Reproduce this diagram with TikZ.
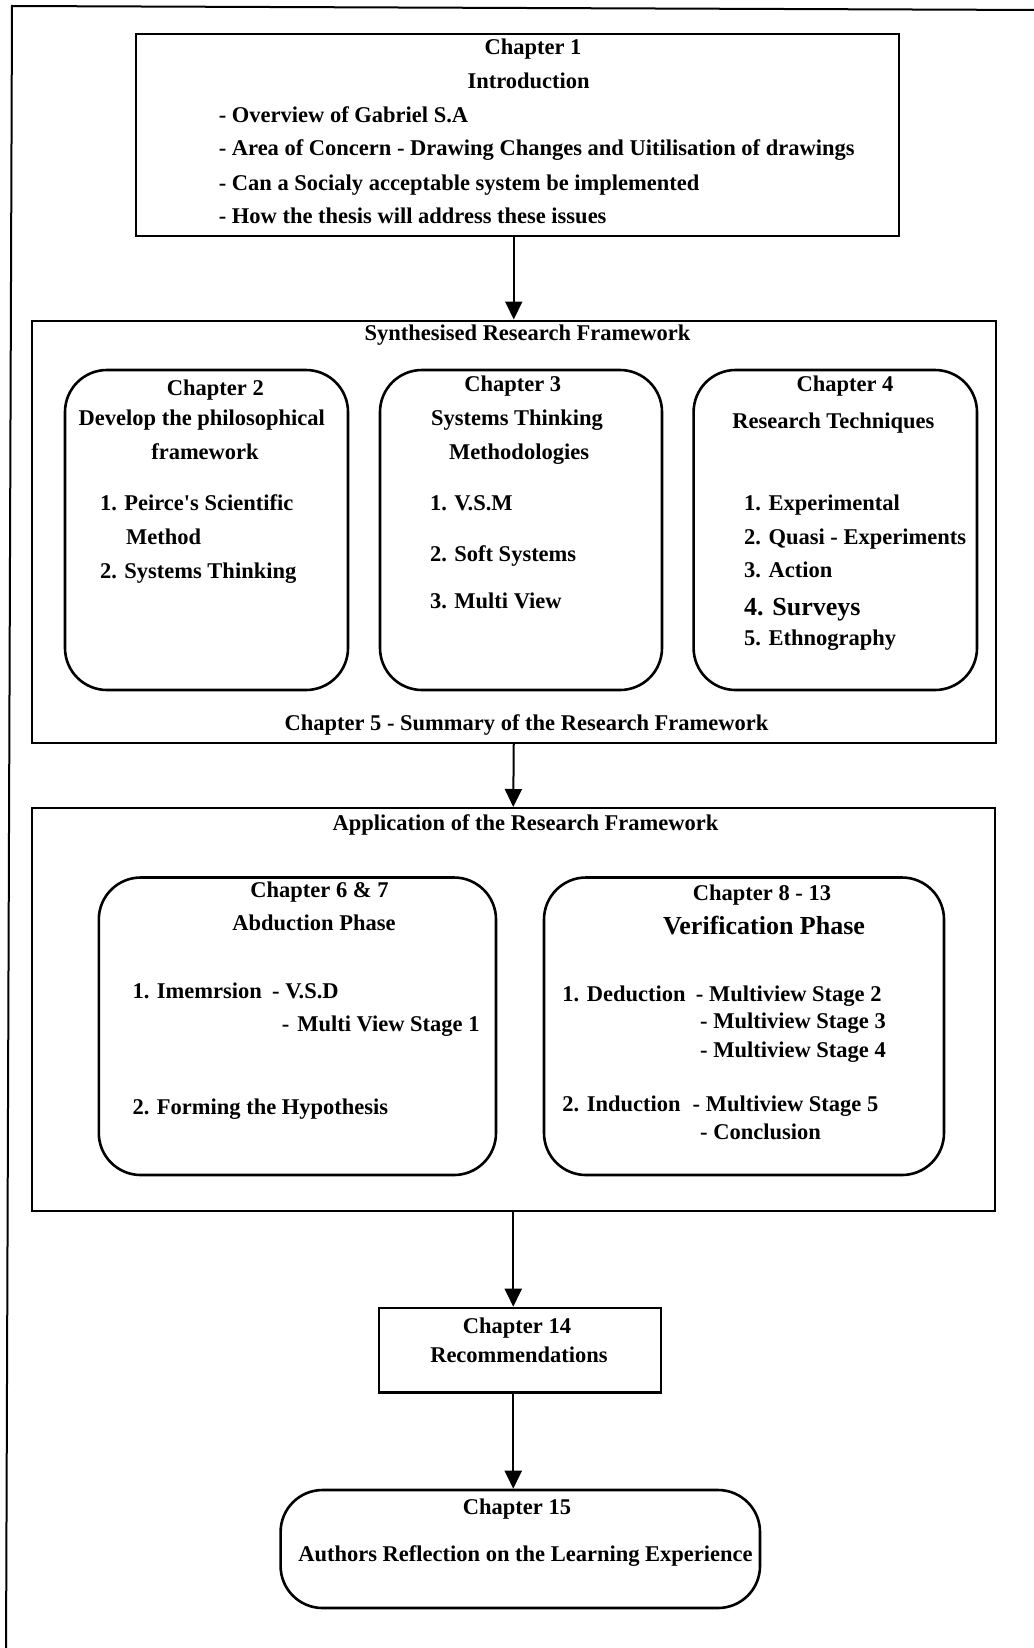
\documentclass[tikz,border=0pt]{standalone}
\usepackage{fontspec}
\setmainfont{Liberation Serif}[Ligatures=TeXOff]
\usetikzlibrary{arrows.meta}
\begin{document}
\begin{tikzpicture}[x=1pt,y=-1pt,
  sqbox/.style={draw, line width=2.6pt, inner sep=0pt},
  rbox/.style={draw, line width=2.6pt, inner sep=0pt, rounded corners=42pt},
  framebox/.style={draw, line width=2pt, inner sep=0pt},
  outerline/.style={line width=2pt},
  arr/.style={line width=2pt, -{Triangle[width=17pt,length=18pt]}},
  txt/.style={font=\fontsize{22.5}{27}\selectfont\bfseries, inner sep=0pt, anchor=base},
  ltxt/.style={txt, anchor=base west},
  bigtxt/.style={font=\fontsize{26}{30}\selectfont\bfseries, inner sep=0pt, anchor=base},
  lbigtxt/.style={bigtxt, anchor=base west}]
\useasboundingbox (0,0) rectangle (1033,1648);
% outer frame (top and left edges only visible)
\coordinate (otr) at (1040,10);
\coordinate (otl) at (12,6);
\coordinate (obl) at (6,1660);
\draw[outerline] (otr) -- (otl) -- (obl);

% Chapter 1
\node[sqbox, minimum width=763pt, minimum height=202pt] (ch1) at (517.5,135) {};
\node[txt] (c1a) at (533,55) {Chapter 1};
\node[txt] (c1b) at (528.6,89) {Introduction};
\node[ltxt] (c1c) at (218.6,122.6) {- Overview of Gabriel S.A};
\node[ltxt] (c1d) at (218.6,156) {- Area of Concern - Drawing Changes and Uitilisation of drawings};
\node[ltxt] (c1e) at (218.6,190) {- Can a Socialy acceptable system be implemented};
\node[ltxt] (c1f) at (218.6,223.5) {- How the thesis will address these issues};

% Synthesised Research Framework
\node[framebox, minimum width=964.5pt, minimum height=422.5pt] (fw1) at (513.75,531.75) {};
\node[txt] (f1t) at (527.5,340) {Synthesised Research Framework};
\node[txt] (f1b) at (526.5,730) {Chapter 5 - Summary of the Research Framework};

% Chapter 2
\node[rbox, minimum width=283pt, minimum height=320pt] (ch2) at (206.5,530) {};
\node[txt] (c2a) at (215.4,395) {Chapter 2};
\node[txt] (c2b) at (201.8,425) {Develop the philosophical};
\node[txt] (c2c) at (205,459) {framework};
\node[ltxt] (c2d) at (99.8,510.5) {1. Peirce's Scientific};
\node[ltxt] (c2e) at (126,544) {Method};
\node[ltxt] (c2f) at (99.8,578.7) {2. Systems Thinking};

% Chapter 3
\node[rbox, minimum width=282pt, minimum height=320pt] (ch3) at (521,530) {};
\node[txt] (c3a) at (512.8,391.6) {Chapter 3};
\node[txt] (c3b) at (517,425) {Systems Thinking};
\node[txt] (c3c) at (519,459) {Methodologies};
\node[ltxt] (c3d) at (429.8,510.5) {1. V.S.M};
\node[ltxt] (c3e) at (429.8,561) {2. Soft Systems};
\node[ltxt] (c3f) at (429.8,608) {3. Multi View};

% Chapter 4
\node[rbox, minimum width=283.4pt, minimum height=320pt] (ch4) at (835.3,530) {};
\node[txt] (c4a) at (845,391.6) {Chapter 4};
\node[txt] (c4b) at (833.4,428.4) {Research Techniques};
\node[ltxt] (c4c) at (744,510.5) {1. Experimental};
\node[ltxt] (c4d) at (744,544) {2. Quasi - Experiments};
\node[ltxt] (c4e) at (744,577.6) {3. Action};
\node[lbigtxt] (c4f) at (744,615.4) {4. Surveys};
\node[ltxt] (c4g) at (744,645) {5. Ethnography};

% Application of the Research Framework
\node[framebox, minimum width=963.5pt, minimum height=402.6pt] (fw2) at (513.25,1009.3) {};
\node[txt] (f2t) at (525.5,830) {Application of the Research Framework};

% Chapter 6 & 7
\node[rbox, minimum width=397.2pt, minimum height=297.5pt] (ch6) at (297.4,1026.25) {};
\node[txt] (c6a) at (319.5,897) {Chapter 6 \& 7};
\node[txt] (c6b) at (314,930.7) {Abduction Phase};
\node[ltxt] (c6c) at (132.4,998) {1. Imemrsion};
\node[ltxt] (c6d) at (272,998) {- V.S.D};
\node[ltxt] (c6e) at (281.6,1031.6) {-\hspace{8pt}Multi View Stage 1};
\node[ltxt] (c6f) at (132.4,1114.6) {2. Forming the Hypothesis};

% Chapter 8 - 13
\node[rbox, minimum width=400pt, minimum height=297.5pt] (ch8) at (744,1026.25) {};
\node[txt] (c8a) at (762,900) {Chapter 8 - 13};
\node[bigtxt] (c8b) at (764,934) {Verification Phase};
\node[ltxt] (c8c) at (562.2,1001) {1. Deduction};
\node[ltxt] (c8d) at (695.7,1001) {- Multiview Stage 2};
\node[ltxt] (c8e) at (700,1028.5) {- Multiview Stage 3};
\node[ltxt] (c8f) at (700,1057) {- Multiview Stage 4};
\node[ltxt] (c8g) at (562.2,1111.5) {2. Induction};
\node[ltxt] (c8h) at (692.5,1111.5) {- Multiview Stage 5};
\node[ltxt] (c8i) at (700,1139) {- Conclusion};

% Chapter 14
\node[sqbox, minimum width=282pt, minimum height=84.5pt] (ch14) at (520,1350.25) {};
\node[txt] (c14a) at (517,1333) {Chapter 14};
\node[txt] (c14b) at (519,1362.7) {Recommendations};

% Chapter 15
\node[rbox, minimum width=479.4pt, minimum height=118pt] (ch15) at (520.3,1549) {};
\node[txt] (c15a) at (517,1514) {Chapter 15};
\node[txt] (c15b) at (525.5,1561) {Authors Reflection on the Learning Experience};

% connectors
\draw[arr] (fw1.north |- ch1.south) -- (fw1.north);
\draw[arr] (fw1.south) -- (fw2.north);
\draw[arr] (fw2.south) -- (fw2.south |- ch14.north);
\draw[arr] (fw2.south |- ch14.south) -- (fw2.south |- ch15.north);
\end{tikzpicture}
\end{document}
